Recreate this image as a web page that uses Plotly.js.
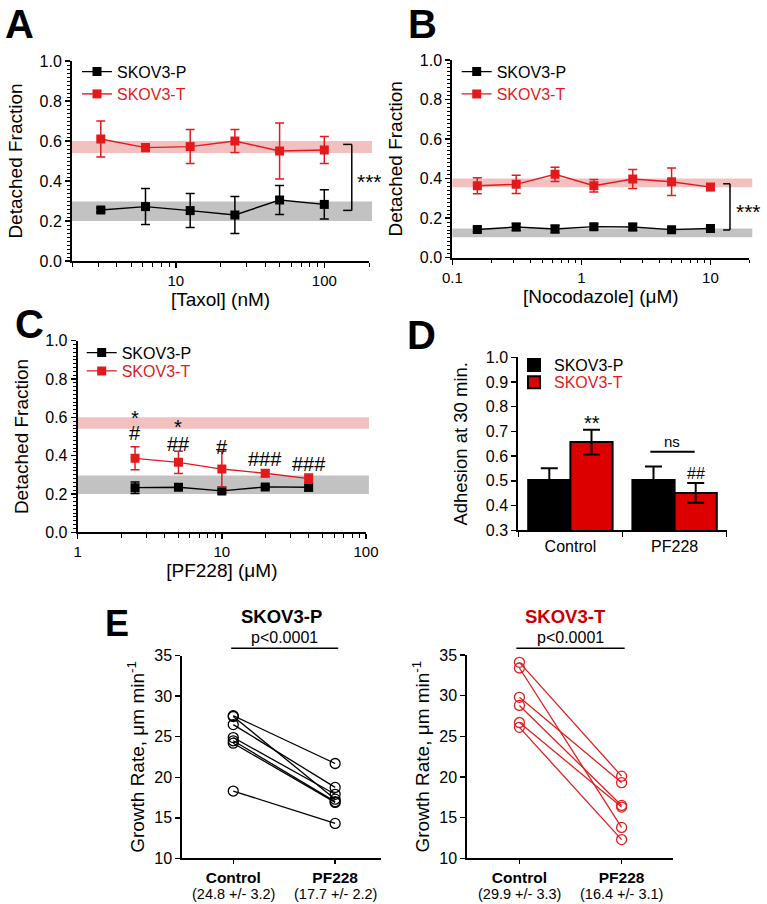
<!DOCTYPE html>
<html><head><meta charset="utf-8">
<script src="https://cdn.plot.ly/plotly-3.0.1.min.js"></script>
<style>html,body{margin:0;padding:0;background:#fff}</style>
</head><body><div id="chart" style="width:767px;height:904px"></div>
<script>
// ---------- Panel A: Taxol ----------
const taxolConc = [3.125, 6.25, 12.5, 25, 50, 100];
const taxolP = [0.255, 0.272, 0.252, 0.230, 0.305, 0.283];
const taxolPErr = [0.010, 0.090, 0.085, 0.092, 0.073, 0.073];
const taxolT = [0.610, 0.567, 0.572, 0.600, 0.550, 0.555];
const taxolTErr = [0.090, 0.019, 0.085, 0.057, 0.140, 0.068];
// ---------- Panel B: Nocodazole ----------
const nocoConc = [0.15625, 0.3125, 0.625, 1.25, 2.5, 5, 10];
const nocoP = [0.143, 0.155, 0.145, 0.157, 0.155, 0.142, 0.148];
const nocoPErr = [0.013, 0.018, 0.019, 0.014, 0.018, 0.006, 0.007];
const nocoT = [0.364, 0.371, 0.422, 0.364, 0.398, 0.384, 0.357];
const nocoTErr = [0.040, 0.046, 0.036, 0.032, 0.048, 0.070, 0.017];
// ---------- Panel C: PF228 ----------
const pfConc = [2.5, 5, 10, 20, 40];
const pfP = [0.233, 0.235, 0.216, 0.237, 0.235];
const pfPErr = [0.030, 0.012, 0.009, 0.009, 0.020];
const pfT = [0.386, 0.365, 0.330, 0.308, 0.280];
const pfTErr = [0.060, 0.058, 0.093, 0.018, 0.024];
const cMarkConc = [2.5, 2.5, 5, 5, 10, 20, 40];
const cMarkY = [0.595, 0.517, 0.552, 0.460, 0.447, 0.381, 0.355];
const cMarkText = ['*', '#', '*', '##', '#', '###', '###'];
// reference bands (mean ranges)
const bandTaxolT = [0.540, 0.600];
const bandTaxolP = [0.200, 0.297];
const bandNocoT = [0.356, 0.401];
const bandNocoP = [0.103, 0.148];
// ---------- Panel D: adhesion ----------
const dCats = ['Control', 'PF228'];
const dP = [0.504, 0.504];
const dPErr = [0.047, 0.054];
const dT = [0.657, 0.451];
const dTErr = [0.050, 0.040];
// ---------- Panel E: growth rate ----------
const eCats = ['Control', 'PF228'];
const eP_ctrl = [27.6, 27.5, 26.5, 24.9, 24.5, 24.2, 18.3];
const eP_pf = [21.7, 17.3, 18.75, 17.9, 17.0, 16.9, 14.3];
const eT_ctrl = [34.1, 33.4, 29.8, 28.8, 26.7, 26.1];
const eT_pf = [20.1, 13.8, 19.3, 16.5, 16.3, 12.3];
const eP_labels = ['(24.8 +/- 3.2)', '(17.7 +/- 2.2)'];
const eT_labels = ['(29.9 +/- 3.3)', '(16.4 +/- 3.1)'];

const RED = '#e31a1c', BLACK = '#000000', FONT = 'Liberation Sans, Arial, sans-serif';
const W = 767, H = 904;
const px = v => v / W, py = v => 1 - v / H;

function lineTrace(x, y, err, color, name, xa, ya, leg) {
  return {x: x, y: y, type: 'scatter', mode: 'lines+markers', name: name,
    xaxis: xa, yaxis: ya, legend: leg,
    line: {color: color, width: 1.4},
    marker: {symbol: 'square', size: 9, color: color},
    error_y: {type: 'data', array: err, visible: true, color: color, thickness: 1.5, width: 4.5}};
}
function pairTrace(ctrl, pf, color, xa, ya) {
  const xs = [], ys = [];
  for (let i = 0; i < ctrl.length; i++) { xs.push(0, 1, null); ys.push(ctrl[i], pf[i], null); }
  return {x: xs, y: ys, type: 'scatter', mode: 'lines+markers', showlegend: false,
    xaxis: xa, yaxis: ya, connectgaps: false,
    line: {color: color, width: 1.3},
    marker: {symbol: 'circle-open', size: 10, color: color, line: {width: 1.3, color: color}}};
}

const traces = [
  lineTrace(taxolConc, taxolP, taxolPErr, BLACK, 'SKOV3-P', 'x', 'y', 'legend'),
  lineTrace(taxolConc, taxolT, taxolTErr, RED, 'SKOV3-T', 'x', 'y', 'legend2'),
  lineTrace(nocoConc, nocoP, nocoPErr, BLACK, 'SKOV3-P', 'x2', 'y2', 'legend3'),
  lineTrace(nocoConc, nocoT, nocoTErr, RED, 'SKOV3-T', 'x2', 'y2', 'legend4'),
  lineTrace(pfConc, pfP, pfPErr, BLACK, 'SKOV3-P', 'x3', 'y3', 'legend5'),
  lineTrace(pfConc, pfT, pfTErr, RED, 'SKOV3-T', 'x3', 'y3', 'legend6'),
  {x: dCats, y: dP, type: 'bar', name: 'SKOV3-P', xaxis: 'x4', yaxis: 'y4', legend: 'legend7',
   marker: {color: '#000000', line: {color: '#000', width: 2}},
   error_y: {type: 'data', array: dPErr, color: '#000', thickness: 2, width: 8.5}},
  {x: dCats, y: dT, type: 'bar', name: 'SKOV3-T', xaxis: 'x4', yaxis: 'y4', legend: 'legend8',
   marker: {color: '#dd0000', line: {color: '#000', width: 2}},
   error_y: {type: 'data', array: dTErr, color: '#000', thickness: 2, width: 8.5}},
  pairTrace(eP_ctrl, eP_pf, '#000000', 'x5', 'y5'),
  pairTrace(eT_ctrl, eT_pf, '#e02020', 'x6', 'y6')
];

function ax(extra) {
  return Object.assign({showline: true, linecolor: '#000', linewidth: 2, ticks: 'outside', ticklen: 5,
    tickwidth: 1.5, tickcolor: '#000', showgrid: false, zeroline: false, fixedrange: true,
    tickfont: {size: 15, color: '#000', family: FONT}}, extra);
}
const minorY = {dtick: 0.02, ticks: 'outside', ticklen: 3, tickwidth: 1, tickcolor: '#000', showgrid: false};
const minorLog = {dtick: 'D1', ticks: 'outside', ticklen: 3.5, tickwidth: 1, tickcolor: '#000', showgrid: false};
const titleFont = {size: 19, color: '#000', family: FONT};
const fracAxis = (dom, anchor) => ax({domain: dom, anchor: anchor, range: [0, 1], dtick: 0.2, tickformat: '.1f',
  minor: minorY, tickfont: {size: 16, color: '#000', family: FONT},
  title: {text: 'Detached Fraction', font: titleFont, standoff: 12}});

function legendAt(x, y, color) {
  return {x: x, y: y, xanchor: 'left', yanchor: 'middle', bgcolor: 'rgba(0,0,0,0)', borderwidth: 0,
    font: {size: 16, color: color, family: FONT}, itemclick: false};
}

const shapes = [];
function band(xref, yref, r, color) {
  shapes.push({type: 'rect', xref: xref + ' domain', yref: yref, x0: 0, x1: 1.01, y0: r[0], y1: r[1],
    fillcolor: color, line: {width: 0}, layer: 'below'});
}
band('x', 'y', bandTaxolT, '#f3c0c0'); band('x', 'y', bandTaxolP, '#c2c2c2');
band('x2', 'y2', bandNocoT, '#f3c0c0'); band('x2', 'y2', bandNocoP, '#c2c2c2');
band('x3', 'y3', bandTaxolT, '#f3c0c0'); band('x3', 'y3', bandTaxolP, '#c2c2c2');
function bracket(xref, yref, xv, xh, yTop, yBot) {
  const s = {xref: xref + ' domain', yref: yref, type: 'line', line: {color: '#000', width: 1.5}};
  shapes.push(Object.assign({}, s, {x0: xv, x1: xv, y0: yTop, y1: yBot}));
  shapes.push(Object.assign({}, s, {x0: xh, x1: xv, y0: yTop, y1: yTop}));
  shapes.push(Object.assign({}, s, {x0: xh, x1: xv, y0: yBot, y1: yBot}));
}
bracket('x', 'y', 0.942, 0.913, 0.583, 0.253);
bracket('x2', 'y2', 0.935, 0.912, 0.374, 0.140);
// ns line in D
shapes.push({type: 'line', xref: 'x4', yref: 'y4', x0: 0.767, x1: 1.193, y0: 0.618, y1: 0.618, line: {color: '#000', width: 2}});
// p-value lines in E
shapes.push({type: 'line', xref: 'x5', yref: 'paper', x0: -0.02, x1: 1.03, y0: py(648.3), y1: py(648.3), line: {color: '#000', width: 1.5}});
shapes.push({type: 'line', xref: 'x6', yref: 'paper', x0: -0.03, x1: 1.03, y0: py(648.3), y1: py(648.3), line: {color: '#000', width: 1.5}});

const annotations = [];
function note(text, xref, yref, x, y, size, color, extra) {
  annotations.push(Object.assign({text: text, xref: xref, yref: yref, x: x, y: y, xanchor: 'center', yanchor: 'middle',
    showarrow: false, font: {size: size, family: FONT, color: color || '#000'}}, extra || {}));
}
function letter(t, x, y, size) { note('<b>' + t + '</b>', 'paper', 'paper', px(x), py(y), size); }
letter('A', 19, 24, 40); letter('B', 422.5, 24, 40); letter('C', 29, 324, 40); letter('D', 421.5, 335, 40); letter('E', 116.5, 623, 36);
note('***', 'x domain', 'y', 0.952, 0.40, 21, '#000', {xanchor: 'left'});
note('***', 'x2 domain', 'y2', 0.947, 0.235, 21, '#000', {xanchor: 'left'});
for (let i = 0; i < cMarkText.length; i++) {
  note(cMarkText[i], 'x3', 'y3', Math.log10(cMarkConc[i]), cMarkY[i], 20);
}
note('**', 'x4', 'y4', 0.2025, 0.735, 20);
note('##', 'x4', 'y4', 1.2025, 0.531, 16);
note('ns', 'x4', 'y4', 0.977, 0.659, 15);
note('<b>SKOV3-P</b>', 'paper', 'paper', px(281), py(616), 18.5);
note('p<0.0001', 'paper', 'paper', px(284), py(637), 16);
note('<b>SKOV3-T</b>', 'paper', 'paper', px(565.8), py(616), 18.5, '#c80000');
note('p<0.0001', 'paper', 'paper', px(570), py(637), 16);
// summary statistics below the category labels in E
for (let i = 0; i < 2; i++) {
  note(eP_labels[i], 'x5', 'paper', i, py(894), 14.5);
  note(eT_labels[i], 'x6', 'paper', i, py(894), 14.5);
}

const growthTitle = {text: 'Growth Rate, \u03bcm min<sup>-1</sup>', font: titleFont, standoff: 5};
const xLogTitle = t => ({text: t, font: titleFont, standoff: 0});

const layout = {
  width: W, height: H, margin: {l: 0, r: 0, t: 0, b: 0},
  paper_bgcolor: '#fff', plot_bgcolor: 'rgba(0,0,0,0)',
  font: {family: FONT, color: '#000'},
  barmode: 'group', bargap: 0.19, bargroupgap: 0,
  showlegend: true,
  legend: legendAt(px(77), py(71.7), '#000'),
  legend2: legendAt(px(77), py(94), RED),
  legend3: legendAt(px(456.7), py(71.7), '#000'),
  legend4: legendAt(px(456.7), py(94), RED),
  legend5: legendAt(px(81.7), py(352.7), '#000'),
  legend6: legendAt(px(81.7), py(371), RED),
  legend7: legendAt(px(514), py(365), '#000'),
  legend8: legendAt(px(514), py(382.3), RED),
  xaxis: ax({domain: [px(72), px(369)], anchor: 'y', type: 'log', range: [Math.log10(2), Math.log10(200)], dtick: 1,
    minor: minorLog, title: xLogTitle('[Taxol] (nM)')}),
  yaxis: fracAxis([py(261), py(61)], 'x'),
  xaxis2: ax({domain: [px(452.3), px(749.3)], anchor: 'y2', type: 'log', range: [-1, Math.log10(20)], dtick: 1,
    minor: minorLog, title: xLogTitle('[Nocodazole] (\u03bcM)')}),
  yaxis2: fracAxis([py(257.7), py(60)], 'x2'),
  xaxis3: ax({domain: [px(77.7), px(366)], anchor: 'y3', type: 'log', range: [0, 2], dtick: 1,
    minor: minorLog, title: xLogTitle('[PF228] (\u03bcM)')}),
  yaxis3: fracAxis([py(532.3), py(340.7)], 'x3'),
  xaxis4: ax({domain: [px(518.3), px(726.7)], anchor: 'y4', type: 'category', range: [-0.5, 1.5],
    tickson: 'boundaries', tickfont: {size: 16, color: '#000', family: FONT}}),
  yaxis4: ax({domain: [py(530.3), py(357.3)], anchor: 'x4', range: [0.3, 1.0], dtick: 0.1, tickformat: '.1f',
    tickfont: {size: 16, color: '#000', family: FONT},
    title: {text: 'Adhesion at 30 min.', font: {size: 18.5, color: '#000', family: FONT}, standoff: 13}}),
  xaxis5: ax({domain: [px(182.3), px(381)], anchor: 'y5', range: [-0.5, 1.45], tickvals: [0, 1],
    ticktext: eCats.map(c => '<b>' + c + '</b>'), ticklen: 4,
    tickfont: {size: 15.5, color: '#000', family: FONT}}),
  yaxis5: ax({domain: [py(858.3), py(655.7)], anchor: 'x5', range: [10, 35], dtick: 5,
    tickfont: {size: 16, color: '#000', family: FONT}, title: growthTitle}),
  xaxis6: ax({domain: [px(467.3), px(672.7)], anchor: 'y6', range: [-0.51, 1.5], tickvals: [0, 1],
    ticktext: eCats.map(c => '<b>' + c + '</b>'), ticklen: 4,
    tickfont: {size: 15.5, color: '#000', family: FONT}}),
  yaxis6: ax({domain: [py(858.3), py(655)], anchor: 'x6', range: [10, 35], dtick: 5,
    tickfont: {size: 16, color: '#000', family: FONT}, title: growthTitle}),
  shapes: shapes,
  annotations: annotations
};
Plotly.newPlot('chart', traces, layout, {staticPlot: true, displayModeBar: false});
</script></body></html>
